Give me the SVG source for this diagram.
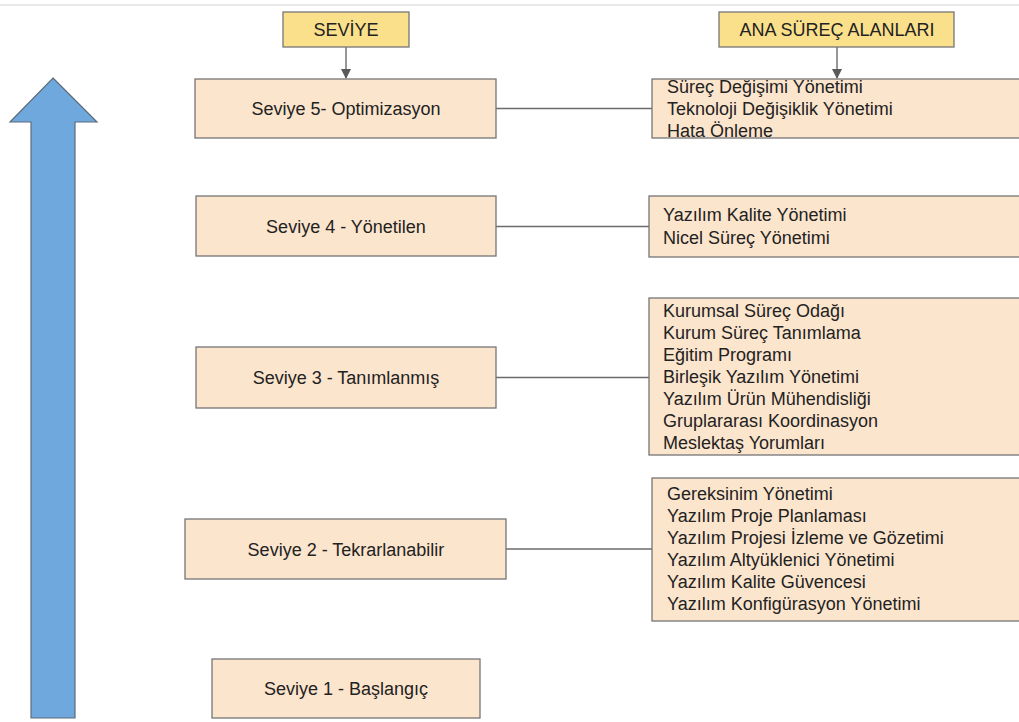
<svg xmlns="http://www.w3.org/2000/svg" width="1019" height="722" viewBox="0 0 1019 722">
<style>
.lvl{fill:#fce5cd;stroke:#767676;stroke-width:1.3}
.hdr{fill:#fbe08c;stroke:#767676;stroke-width:1.3}
text{font-family:"Liberation Sans",Arial,sans-serif;font-size:18px;fill:#222}
.c{text-anchor:middle}
.con{stroke:#6b6b6b;stroke-width:1.4;fill:none}
</style>
<defs>
<marker id="ah" markerWidth="10" markerHeight="10" refX="9" refY="5" orient="auto" markerUnits="userSpaceOnUse">
<path d="M0,0 L10,5 L0,10 Z" fill="#5a5a5a"/>
</marker>
</defs>
<rect width="1019" height="722" fill="#ffffff"/>
<line x1="0" y1="5" x2="1019" y2="5" stroke="#e2e2e2" stroke-width="1.5"/>
<g id="growth-arrow">
<polygon points="53,78 97,122 75,122 75,718 31,718 31,122 10,122" fill="#6fa8dc" stroke="#5d6b7a" stroke-width="1.2"/>
</g>
<g id="connectors">
<line class="con" x1="346" y1="47" x2="346" y2="78" marker-end="url(#ah)"/>
<line class="con" x1="837" y1="47" x2="837" y2="78" marker-end="url(#ah)"/>
<line class="con" x1="496" y1="108.5" x2="652" y2="108.5"/>
<line class="con" x1="496" y1="226.5" x2="649" y2="226.5"/>
<line class="con" x1="496" y1="377.5" x2="649" y2="377.5"/>
<line class="con" x1="506" y1="549" x2="652" y2="549"/>
</g>
<g id="hdr-seviye">
<rect class="hdr" x="283" y="12" width="126" height="35"/>
<text class="c" x="346" y="36">SEVİYE</text>
</g>
<g id="hdr-ana">
<rect class="hdr" x="719" y="12" width="235" height="35"/>
<text class="c" x="837" y="36">ANA SÜREÇ ALANLARI</text>
</g>
<g id="seviye5">
<rect class="lvl" x="195" y="79" width="301" height="59"/>
<text class="c" x="346" y="115">Seviye 5- Optimizasyon</text>
</g>
<g id="alan5">
<rect class="lvl" x="652" y="79" width="380" height="59"/>
<text x="667" y="93">Süreç Değişimi Yönetimi</text>
<text x="667" y="115">Teknoloji Değişiklik Yönetimi</text>
<text x="667" y="137">Hata Önleme</text>
</g>
<g id="seviye4">
<rect class="lvl" x="196" y="196" width="300" height="60"/>
<text class="c" x="346" y="233">Seviye 4 - Yönetilen</text>
</g>
<g id="alan4">
<rect class="lvl" x="649" y="196" width="380" height="61"/>
<text x="663" y="221">Yazılım Kalite Yönetimi</text>
<text x="663" y="244">Nicel Süreç Yönetimi</text>
</g>
<g id="seviye3">
<rect class="lvl" x="196" y="347" width="300" height="61"/>
<text class="c" x="346" y="384">Seviye 3 - Tanımlanmış</text>
</g>
<g id="alan3">
<rect class="lvl" x="649" y="298" width="380" height="157"/>
<text x="663" y="317">Kurumsal Süreç Odağı</text>
<text x="663" y="339">Kurum Süreç Tanımlama</text>
<text x="663" y="361">Eğitim Programı</text>
<text x="663" y="383">Birleşik Yazılım Yönetimi</text>
<text x="663" y="405">Yazılım Ürün Mühendisliği</text>
<text x="663" y="427">Gruplararası Koordinasyon</text>
<text x="663" y="449">Meslektaş Yorumları</text>
</g>
<g id="seviye2">
<rect class="lvl" x="185" y="519" width="321" height="60"/>
<text class="c" x="346" y="556">Seviye 2 - Tekrarlanabilir</text>
</g>
<g id="alan2">
<rect class="lvl" x="652" y="478" width="380" height="143"/>
<text x="667" y="500">Gereksinim Yönetimi</text>
<text x="667" y="522">Yazılım Proje Planlaması</text>
<text x="667" y="544">Yazılım Projesi İzleme ve Gözetimi</text>
<text x="667" y="566">Yazılım Altyüklenici Yönetimi</text>
<text x="667" y="588">Yazılım Kalite Güvencesi</text>
<text x="667" y="610">Yazılım Konfigürasyon Yönetimi</text>
</g>
<g id="seviye1">
<rect class="lvl" x="212" y="659" width="268" height="59"/>
<text class="c" x="346" y="695">Seviye 1 - Başlangıç</text>
</g>
</svg>
